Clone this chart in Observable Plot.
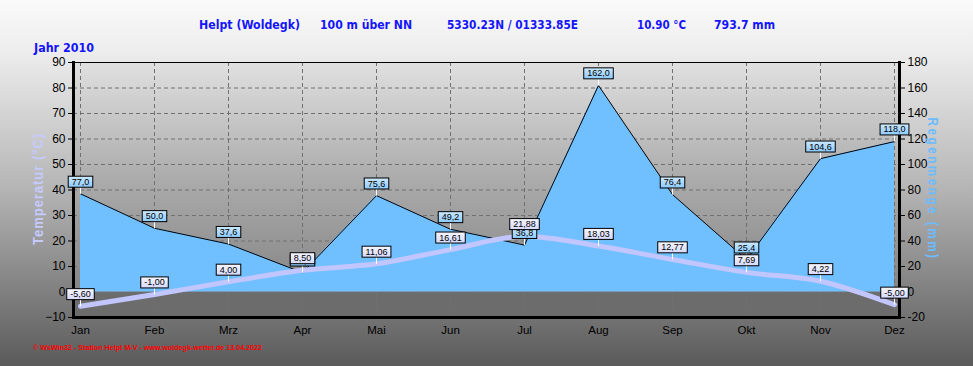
<!DOCTYPE html>
<html><head><meta charset="utf-8">
<script src="https://cdn.jsdelivr.net/npm/d3@7"></script>
<script src="https://cdn.jsdelivr.net/npm/@observablehq/plot@0.6"></script>
<style>
html,body{margin:0;padding:0;background:#fff;}
#wrap{position:relative;width:973px;height:366px;overflow:hidden;
 background:linear-gradient(to bottom,#fafafa 0%,#ededed 14%,#b4b4b4 52%,#5a5a5a 100%);
 font-family:"Liberation Sans",Arial,sans-serif;}
#wrap svg{position:absolute;left:0;top:0;}
.t{position:absolute;white-space:nowrap;line-height:1;}
</style></head><body><div id="wrap"></div>
<script>
// ---- data ----
const months = ["Jan","Feb","Mrz","Apr","Mai","Jun","Jul","Aug","Sep","Okt","Nov","Dez"];
const rain = [77.0, 50.0, 37.6, 15.2, 75.6, 49.2, 36.8, 162.0, 76.4, 25.4, 104.6, 118.0];
const temp = [-5.60, -1.00, 4.00, 8.50, 11.06, 16.61, 21.88, 18.03, 12.77, 7.69, 4.22, -5.00];
const tempTicks = [-10, 0, 10, 20, 30, 40, 50, 60, 70, 80, 90];
const rainTicks = [-20, 0, 20, 40, 60, 80, 100, 120, 140, 160, 180];
const belowZero = [{lo: -10, hi: 0}];
const headerParts = ["Helpt (Woldegk)", "100 m über NN", "5330.23N / 01333.85E", "10.90 °C", "793.7 mm"];
const yearText = "Jahr  2010";
const leftTitle = "Temperatur  (°C)";
const rightTitle = "Regenmenge  (mm)";
const caption = "© WsWin32  -  Station Helpt M-V  -  www.woldegk-wetter.de  13.04.2022";

const data = months.map((m, i) => ({month: m, rain: rain[i], temp: temp[i]}));
const fmt = (v, n) => v.toFixed(n).replace(".", ",");

const wrap = document.getElementById("wrap");

const dotLine = {draw(ctx) { ctx.moveTo(0, 0); ctx.lineTo(0, -7); }};

const chart = Plot.plot({
  width: 973, height: 366,
  marginLeft: 73, marginRight: 74, marginTop: 62, marginBottom: 49,
  x: {type: "point", domain: months, padding: 0, insetLeft: 4, insetRight: 3},
  y: {domain: [-10, 90]},
  style: {background: "transparent", fontFamily: "'Liberation Sans', Arial, sans-serif", fontSize: "12px", color: "black", overflow: "visible"},
  marks: [
    Plot.frame({fill: "url(#plotbg)"}),
    Plot.rect(belowZero, {y1: "lo", y2: "hi", fill: "#6c6c6c"}),
    Plot.gridY(tempTicks, {stroke: "#707070", strokeOpacity: 1, strokeDasharray: "4,3"}),
    Plot.gridX(months, {stroke: "#707070", strokeOpacity: 1, strokeDasharray: "4,3"}),
    Plot.areaY(data, {x: "month", y: d => d.rain / 2, fill: "#70bfff", fillOpacity: 1}),
    Plot.lineY(data, {x: "month", y: d => d.rain / 2, stroke: "black", strokeWidth: 1}),
    Plot.lineY(data, {x: "month", y: "temp", stroke: "#c2c6ff", strokeWidth: 5, curve: "monotone-x"}),
    Plot.frame({stroke: "black", strokeWidth: 1}),
    Plot.frame({anchor: "left", stroke: "black", strokeWidth: 3}),
    Plot.frame({anchor: "right", stroke: "black", strokeWidth: 3}),
    Plot.frame({anchor: "bottom", stroke: "black", strokeWidth: 3}),
    Plot.axisY(tempTicks, {anchor: "left", tickSize: 5, tickPadding: 3, label: null}),
    Plot.axisY(rainTicks.map(v => v / 2), {anchor: "right", tickSize: 5, tickPadding: 3, tickFormat: d => String(d * 2), label: null}),
    Plot.axisX({anchor: "bottom", tickSize: 0, tickPadding: 8, fontSize: 11.5, label: null}),
    Plot.dot(data, {x: "month", y: d => d.rain / 2, symbol: dotLine, stroke: "white", fill: "none", strokeWidth: 1}),
    Plot.dot(data, {x: "month", y: "temp", symbol: dotLine, stroke: "white", fill: "none", strokeWidth: 1}),
    Plot.text(data, {x: "month", y: d => d.rain / 2, text: d => fmt(d.rain, 1), dy: -12, fontSize: 9, fill: "black", lineAnchor: "middle"}),
    Plot.text(data, {x: "month", y: "temp", text: d => fmt(d.temp, 2), dy: -12, fontSize: 9, fill: "black", lineAnchor: "middle"})
  ]
});
wrap.appendChild(chart);

// gradients
const svg = d3.select(chart);
const defs = svg.insert("defs", ":first-child");
const lg = defs.append("linearGradient").attr("id", "plotbg").attr("x1", 0).attr("y1", 0).attr("x2", 0).attr("y2", 1);
[["0%", "#e0e0e0"], ["45%", "#acacac"], ["100%", "#7c7c7c"]].forEach(([o, c]) => lg.append("stop").attr("offset", o).attr("stop-color", c));
const gr = defs.append("linearGradient").attr("id", "rainbox").attr("x1", 0).attr("y1", 0).attr("x2", 0).attr("y2", 1);
[["0%", "#cde9ff"], ["100%", "#8ccaff"]].forEach(([o, c]) => gr.append("stop").attr("offset", o).attr("stop-color", c));
const gt = defs.append("linearGradient").attr("id", "tempbox").attr("x1", 0).attr("y1", 0).attr("x2", 0).attr("y2", 1);
[["0%", "#f6f6ff"], ["100%", "#d6daff"]].forEach(([o, c]) => gt.append("stop").attr("offset", o).attr("stop-color", c));

// label boxes: the two data text marks, in mark order (rain, then temperature)
const textGroups = Array.from(chart.querySelectorAll('g[aria-label="text"]'));
function boxes(group, fill) {
  if (!group) return;
  Array.from(group.querySelectorAll("text")).forEach(txt => {
    const b = txt.getBBox();
    const t = txt.getAttribute("transform");
    const r = document.createElementNS("http://www.w3.org/2000/svg", "rect");
    r.setAttribute("x", b.x - 3.5); r.setAttribute("y", b.y - 0.5);
    r.setAttribute("width", b.width + 7); r.setAttribute("height", b.height + 1);
    r.setAttribute("fill", fill); r.setAttribute("stroke", "black"); r.setAttribute("stroke-width", 1);
    if (t) r.setAttribute("transform", t);
    txt.parentNode.insertBefore(r, txt);
  });
}
boxes(textGroups[0], "url(#rainbox)");
boxes(textGroups[1], "url(#tempbox)");

// text helpers
function place(txt, x, cy, w, css) {
  const s = document.createElement("span");
  s.className = "t"; s.textContent = txt; s.style.cssText += css;
  wrap.appendChild(s);
  const r = s.getBoundingClientRect();
  s.style.left = x + "px"; s.style.top = (cy - r.height / 2) + "px";
  s.style.transformOrigin = "0 50%";
  s.style.transform = `scaleX(${w / r.width})`;
}
function placeRot(txt, cx, cy, len, angle, css) {
  const s = document.createElement("span");
  s.className = "t"; s.textContent = txt; s.style.cssText += css;
  wrap.appendChild(s);
  const r = s.getBoundingClientRect();
  s.style.left = (cx - r.width / 2) + "px"; s.style.top = (cy - r.height / 2) + "px";
  s.style.transformOrigin = "50% 50%";
  s.style.transform = `rotate(${angle}deg) scaleX(${len / r.width})`;
}
const hcss = "font-family:'Liberation Sans Narrow','DejaVu Sans Condensed','Liberation Sans',Arial,sans-serif;font-weight:bold;font-size:13px;color:#1414ff;";
const hx = [[199, 101], [320, 92], [447, 131], [637, 49], [714, 61]];
headerParts.forEach((p, i) => place(p, hx[i][0], 24, hx[i][1], hcss));
place(yearText, 34, 47.5, 60, hcss);
placeRot(leftTitle, 38, 189, 112, -90, "font-weight:bold;font-size:14px;letter-spacing:1px;color:#c6caff;");
placeRot(rightTitle, 933, 188.5, 143, 90, "font-weight:bold;font-size:14px;letter-spacing:3px;color:#6cbcff;");
place(caption, 33, 347.5, 229, "font-weight:bold;font-size:8px;color:#ff0000;");
</script></body></html>
